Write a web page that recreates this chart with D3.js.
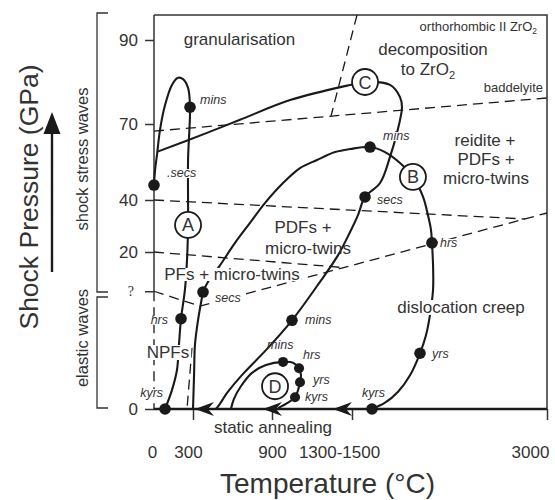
<!DOCTYPE html>
<html><head><meta charset="utf-8">
<script src="https://cdn.jsdelivr.net/npm/d3@7"></script>
<style>
body{margin:0;background:#fff}
text{font-family:Arial,"Liberation Sans",Helvetica,sans-serif;fill:#333}
</style>
</head><body><svg id="c" width="555" height="500"></svg>
<script>
// ---------------- data (Temperature °C, Shock pressure GPa) ----------------
const xTickValues = [300, 900, 1400, 3000];
const xTickLabels = ["0", "300", "900", "1300-1500", "3000"];
const xTickLabelT = [-15, 262, 900, 1319, 2860];
const yTickValues = [0, 15, 20, 40, 70, 90];
const yTickLabels = ["0", "?", "20", "40", "70", "90"];

// P-T-t paths
const pathA = [[85,0],[138,2.4],[177,5.0],[192,8.2],[208,11.5],[238,15.2],[254,19.0],[262,30.4],[262,55.8],[277,74.0],[262,78.6],[223,80.7],[185,81.0],[138,79.3],[85,74.5],[46,67.6],[23,57.8],[8,51.8],[0,45.9]];
const pathS = [[376,14.9],[338,11.3],[315,8.2],[308,4.3],[300,0]];
const pathB = [[376,14.9],[414,16.2],[505,18.3],[619,23.5],[733,31.2],[846,38.8],[969,46.7],[1075,52.6],[1181,55.8],[1294,58.9],[1388,60.1],[1548,60.9],[1671,58.9],[1794,54.6],[1900,49.1],[1983,41.2],[2023,34.2],[2048,28.5],[2056,23.5],[2065,18.3],[2065,15.2],[2040,12.0],[2007,9.4],[1958,7.1],[1876,4.3],[1778,2.2],[1671,0.8],[1564,0]];
const pathC = [[23,59.0],[406,66.5],[657,71.0],[1013,75.7],[1388,79.3],[1507,80.0],[1712,79.3],[1794,76.4],[1810,74.0],[1769,66.5],[1712,57.0],[1630,46.7],[1507,41.2],[1449,34.2],[1388,27.7],[1313,19.6],[1200,16.2],[1025,11.3],[854,7.5],[687,4.6],[566,2.2],[498,0.5],[475,0]];
const pathD = [[588,0],[611,1.3],[664,2.9],[748,4.6],[854,5.6],[969,6.0],[1031,5.9],[1069,5.2],[1081,4.3],[1075,3.4],[1063,2.4],[1044,1.5],[1000,0.8],[938,0.1]];

// phase boundaries (dashed)
const lineBaddeleyite = [[0,67.2],[3000,76.2]];
const lineOrtho = [[1441,96],[1269,71.9]];
const line40 = [[0,40],[2819,32.7]];
const line20 = [[0,20],[1356,18.0]];
const lineQ = [[0,15],[353,13.1],[3000,35.0]];
const lineShort = [[292,7.8],[254,0]];

// time markers
const dotT = [0, 277, 208, 85, 376, 1548, 2056, 1958, 1564, 1507, 1025, 969, 1069, 1075, 1044];
const dotP = [45.9, 74.0, 11.5, 0, 14.9, 60.9, 23.5, 7.1, 0, 41.2, 11.3, 6.0, 5.2, 3.4, 1.5];
const dotLabel = [".secs","mins","hrs","kyrs","secs","mins","hrs","yrs","kyrs","secs","mins","mins","hrs","yrs","kyrs"];

// path letters
const pathNames = ["A","B","C","D"];
const pathNameT = [262, 1900, 1507, 919];
const pathNameP = [30.4, 49.1, 80.0, 2.9];

// cooling arrows on the axis
const arrowT = [315, 831, 1281];

// ---------------- drawing ----------------
const svg = d3.select("#c");
const x = d3.scaleLinear().domain([0,300,900,1400,3000]).range([154,193,272,352,547]);
const y = d3.scaleLinear().domain([0,20,40,70,90,96]).range([409,252,200,124,40,15]);
const INK = "#1a1a1a";

const gLines = svg.append("g");
const gMask = svg.append("g");
const gText = svg.append("g");
const gDots = svg.append("g");
const gCirc = svg.append("g");

const straight = d3.line().x(d=>x(d[0])).y(d=>y(d[1]));
const smooth = d3.line().x(d=>x(d[0])).y(d=>y(d[1])).curve(d3.curveCatmullRom.alpha(0.5));

// frame
gLines.append("path").attr("d", straight([[0,96],[3000,96],[3000,0]]))
  .attr("fill","none").attr("stroke","#333").attr("stroke-width",1.5);
gLines.append("path").attr("d", straight([[0,96],[0,15]]))
  .attr("fill","none").attr("stroke","#333").attr("stroke-width",1.5);
gLines.append("path").attr("d", straight([[0,15],[0,0]]))
  .attr("fill","none").attr("stroke","#333").attr("stroke-width",1.5).attr("stroke-dasharray","10,6");

// axes
const yAxis = gLines.append("g").attr("transform",`translate(${x(0)},0)`)
  .call(d3.axisLeft(y).tickValues(yTickValues).tickSize(9).tickPadding(7)
    .tickFormat((d,i)=>yTickLabels[i]));
yAxis.select(".domain").remove();
yAxis.selectAll("line").attr("stroke","#333").attr("stroke-width",1.5);
yAxis.selectAll("text").attr("fill","#333")
  .style("font-family",(d,i)=>yTickLabels[i]==="?"?"'Liberation Serif','DejaVu Serif',serif":null)
  .attr("font-size",(d,i)=>yTickLabels[i]==="?"?14:17)
  .attr("dx",(d,i)=>yTickLabels[i]==="?"?-4:0);

const xAxis = gLines.append("g").attr("transform",`translate(0,${y(0)})`)
  .call(d3.axisBottom(x).tickValues(xTickValues).tickSize(11).tickFormat(""));
xAxis.select(".domain").remove();
xAxis.selectAll("line").attr("stroke","#333").attr("stroke-width",1.5);

const xLab = gLines.append("g").attr("transform",`translate(0,${y(0)})`)
  .call(d3.axisBottom(x).tickValues(xTickLabelT).tickSize(0).tickPadding(37)
    .tickFormat((d,i)=>xTickLabels[i]));
xLab.select(".domain").remove();
xLab.selectAll("text").attr("font-size",17).attr("fill","#333");

// dashed boundaries
[lineBaddeleyite, lineOrtho, line40, line20, lineQ, lineShort].forEach(L=>{
  gLines.append("path").attr("d", straight(L)).attr("fill","none")
    .attr("stroke",INK).attr("stroke-width",1.3).attr("stroke-dasharray","10,6");
});

// solid paths
[pathA, pathS, pathB, pathC, pathD].forEach(L=>{
  gLines.append("path").attr("d", smooth(L)).attr("fill","none")
    .attr("stroke",INK).attr("stroke-width",2.1);
});

// axis baseline (thick)
gLines.append("path").attr("d", straight([[0,0],[3000,0]]))
  .attr("stroke",INK).attr("stroke-width",2.6).attr("fill","none");

// arrows
gLines.selectAll("path.arr").data(arrowT).join("path").attr("class","arr")
  .attr("transform",d=>`translate(${x(d)},${y(0)})`)
  .attr("d","M0,0 L19,-7 L13,0 L19,7 Z").attr("fill",INK);

// ---- labels ----
function label(txt, px, py, size, opt={}){
  const t = gText.append("text").attr("x",px).attr("y",py).attr("font-size",size)
    .attr("text-anchor",opt.anchor||"start");
  if (opt.italic) t.attr("font-style","italic");
  if (opt.sub){
    t.append("tspan").text(txt);
    t.append("tspan").text(opt.sub).attr("font-size",size*0.65).attr("dy",size*0.25);
  } else t.text(txt);
  if (opt.mask){
    const b = t.node().getBBox();
    const pt = opt.padT!==undefined?opt.padT:2, pb = opt.padB!==undefined?opt.padB:2;
    gMask.append("rect").attr("x",b.x-2).attr("y",b.y+pt)
      .attr("width",b.width+4).attr("height",b.height-pt-pb).attr("fill","#fff");
  }
  return t;
}

label("granularisation", 239.5, 45, 17, {anchor:"middle"});
label("orthorhombic II ZrO", 537, 31, 13, {anchor:"end", sub:"2"});
label("decomposition", 433, 55, 17, {anchor:"middle"});
label("to ZrO", 428, 75, 17, {anchor:"middle", sub:"2"});
label("baddelyite", 543, 92, 13, {anchor:"end"});
label("reidite +", 485, 146, 17, {anchor:"middle"});
label("PDFs +", 486, 165, 17, {anchor:"middle"});
label("micro-twins", 486, 184, 17, {anchor:"middle"});
label("PDFs +", 303, 233, 17, {anchor:"middle"});
label("micro-twins", 308, 254, 17, {anchor:"middle"});
label("PFs + micro-twins", 232, 280, 17, {anchor:"middle", mask:true, padT:3, padB:3});
label("NPFs", 168, 358, 17, {anchor:"middle", mask:true});
label("dislocation creep", 461, 313, 17, {anchor:"middle", mask:true});
label("static annealing", 273, 433, 17, {anchor:"middle"});

// time-marker label offsets (layout)
const lblLayout = [[13,-8,"start"],[10,-3,"start"],[-13,5,"end"],[-2,-12,"end"],
  [12,10,"start"],[13,-7,"start"],[8,4,"start"],[12,5,"start"],[-10,-12,"start"],
  [12,7,"start"],[13,4,"start"],[-16,-13,"start"],[4,-9,"start"],[13,2,"start"],[10,4,"start"]];
const maskIdx = new Set([0,2,3,4,5,6]);
dotT.forEach((t,i)=>{
  const [dx,dy,an] = lblLayout[i];
  label(dotLabel[i], x(t)+dx, y(dotP[i])+dy, 12.5, {italic:true, anchor:an, mask:maskIdx.has(i), padT:3, padB:2});
});

// dots
gDots.selectAll("circle").data(dotT).join("circle")
  .attr("cx",d=>x(d)).attr("cy",(d,i)=>y(dotP[i]))
  .attr("r",(d,i)=>i>=11?5:5.8).attr("fill",INK);

// path letters
pathNames.forEach((n,i)=>{
  const cx = x(pathNameT[i]), cy = y(pathNameP[i]);
  gCirc.append("circle").attr("cx",cx).attr("cy",cy).attr("r",13)
    .attr("fill","#fff").attr("stroke",INK).attr("stroke-width",1.8);
  gCirc.append("text").attr("x",cx).attr("y",cy+6.5).attr("text-anchor","middle")
    .attr("font-size",18).text(n);
});

// left-side annotations
const deco = svg.append("g");
deco.append("path").attr("d","M108,13 H97 V292 H108").attr("fill","none").attr("stroke","#333").attr("stroke-width",1.3);
deco.append("path").attr("d","M108,297 H97 V408 H108").attr("fill","none").attr("stroke","#333").attr("stroke-width",1.3);
deco.append("text").attr("transform","translate(88,159) rotate(-90)").attr("text-anchor","middle")
  .attr("font-size",16.5).text("shock stress waves");
deco.append("text").attr("transform","translate(88,338) rotate(-90)").attr("text-anchor","middle")
  .attr("font-size",16.5).text("elastic waves");
deco.append("text").attr("transform","translate(38,197) rotate(-90)").attr("text-anchor","middle")
  .attr("font-size",26.5).text("Shock Pressure (GPa)");
deco.append("line").attr("x1",52).attr("x2",52).attr("y1",272).attr("y2",128)
  .attr("stroke",INK).attr("stroke-width",2.4);
deco.append("path").attr("d","M52,112 L60.5,134 L43.5,134 Z").attr("fill",INK);
deco.append("text").attr("x",220).attr("y",493).attr("font-size",28).text("Temperature (°C)");
</script>
</body></html>
